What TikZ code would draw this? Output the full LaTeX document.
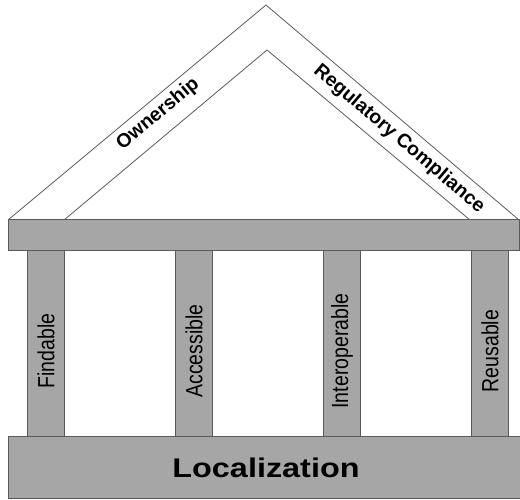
\documentclass[tikz,border=0pt]{standalone}
\usepackage{fontspec}
\setmainfont{Liberation Sans}
\definecolor{stone}{HTML}{A6A6A6}
\definecolor{edge}{HTML}{5A5A5A}
\begin{document}
\begin{tikzpicture}[x=1pt,y=-1pt,
  block/.style={draw=edge, fill=stone, line width=1pt, inner sep=0pt},
  roofline/.style={draw=edge, line width=0.8pt, line join=miter},
  pillartext/.style={font=\fontsize{19.5}{20}\selectfont, inner sep=0pt, xscale=1.2, rotate=90},
  rooftext/.style={font=\bfseries\fontsize{19.5}{21}\selectfont, inner sep=0pt},
  basetext/.style={font=\bfseries\fontsize{27}{30}\selectfont, inner sep=0pt, xscale=1.2}]
\useasboundingbox (0,0) rectangle (520,499);
% roof
\coordinate (oL) at (8,220);
\coordinate (oT) at (266,5);
\coordinate (oR) at (519,220);
\coordinate (iL) at (64,220);
\coordinate (iT) at (267,50);
\coordinate (iR) at (470,220);
\draw[roofline] (oL) -- (oT) -- (oR);
\draw[roofline] (iL) -- (iT) -- (iR);
% entablature and base
\node[block, minimum width=511, minimum height=31] (beam) at (263.5,234.5) {};
\node[block, minimum width=512, minimum height=62] (base) at (264,467) {};
% pillars
\node[block, minimum width=37, minimum height=186] (p1) at (45.5,343) {};
\node[block, minimum width=37, minimum height=186] (p2) at (193.5,343) {};
\node[block, minimum width=37, minimum height=186] (p3) at (341.5,343) {};
\node[block, minimum width=37, minimum height=186] (p4) at (489.5,343) {};
% texts
\node[pillartext] (t1) at (46,351) {Findable};
\node[pillartext] (t2) at (194,351) {Accessible};
\node[pillartext] (t3) at (342,351) {Interoperable};
\node[pillartext] (t4) at (490,351) {Reusable};
\node[rooftext, rotate=39.8] (own) at (158,114) {Ownership};
\node[rooftext, rotate=-40.4] (reg) at (399,139) {Regulatory Compliance};
\node[basetext, anchor=base] (loc) at (266,477) {Localization};
\end{tikzpicture}
\end{document}
